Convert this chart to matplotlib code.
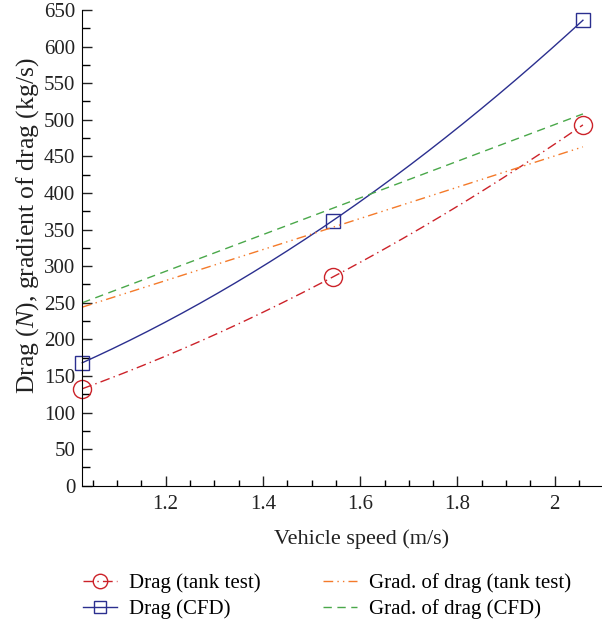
import numpy as np
import matplotlib
matplotlib.use('Agg')
import matplotlib.pyplot as plt
from matplotlib.ticker import MultipleLocator

plt.rcParams['font.family'] = 'Liberation Serif'
plt.rcParams['mathtext.fontset'] = 'custom'
plt.rcParams['mathtext.it'] = 'Liberation Serif:italic'
plt.rcParams['mathtext.rm'] = 'Liberation Serif'

# vehicle speed (m/s), i.e. 2, 3, 4 knots
speed = [1.0289, 1.5433, 2.0578]
drag_tank = [132.5, 285, 493]
drag_cfd = [168, 362, 636]
grad_tank = [244, 353, 463]
grad_cfd = [250, 379, 508]

red = '#cc2229'
blue = '#2b2f8f'
orange = '#f47a2a'
green = '#4aa84a'
txt = '#222222'

fig = plt.figure(figsize=(6.02, 6.29), dpi=100)
ax = fig.add_axes([0.1367, 0.2278, 0.8633, 0.7563])

# smooth curve through the three measured points
xs = np.linspace(speed[0], speed[-1], 201)
mark = [0, 100, 200]

def smooth(y):
    return np.polyval(np.polyfit(speed, y, 2), xs)

l1, = ax.plot(xs, smooth(drag_tank), color=red, lw=1.0, ls=(0, (7, 3, 1, 3)),
              marker='o', markevery=mark, ms=13, mfc='none', mec=red, mew=1.0,
              clip_on=False, label='Drag (tank test)')
l2, = ax.plot(xs, smooth(drag_cfd), color=blue, lw=1.0, ls='-',
              marker='s', markevery=mark, ms=10, mfc='none', mec=blue, mew=1.0,
              clip_on=False, label='Drag (CFD)')
l3, = ax.plot(speed, grad_tank, color=orange, lw=1.0, ls=(0, (7, 3, 1, 3, 1, 3)),
              clip_on=False, label='Grad. of drag (tank test)')
l4, = ax.plot(speed, grad_cfd, color=green, lw=1.0, ls=(0, (6, 4)),
              clip_on=False, label='Grad. of drag (CFD)')

ax.set_xlim(1.0289, 2.097)
ax.set_ylim(0, 650)
ax.xaxis.set_major_locator(MultipleLocator(0.2))
ax.xaxis.set_minor_locator(MultipleLocator(0.05))
ax.yaxis.set_major_locator(MultipleLocator(50))
ax.yaxis.set_minor_locator(MultipleLocator(25))
ax.set_xticks([1.2, 1.4, 1.6, 1.8, 2.0])
ax.set_xticklabels(['1.2', '1.4', '1.6', '1.8', '2'])

for s in ['top', 'right']:
    ax.spines[s].set_visible(False)
ax.tick_params(which='major', direction='in', length=7, width=1, labelsize=15, colors=txt)
ax.tick_params(axis='y', which='minor', direction='in', length=6, width=1)
ax.tick_params(axis='x', which='minor', direction='in', length=4, width=1)
ax.tick_params(axis='x', pad=7)
ax.tick_params(axis='y', pad=5)

ax.set_xlabel('Vehicle speed (m/s)', fontsize=16, color=txt, labelpad=11, x=0.538)
ax.set_ylabel('Drag ($\\mathit{N}$), gradient of drag (kg/s)', fontsize=18.5, color=txt,
              labelpad=2, y=0.546)

fig.legend(handles=[l1, l2, l3, l4], loc='lower left', bbox_to_anchor=(0.1245, 0.002),
           borderaxespad=0, ncol=2, frameon=False, fontsize=15, handlelength=1.6,
           columnspacing=3.0, labelspacing=0.3, handletextpad=0.6, markerscale=0.8)

fig.savefig('out.png', dpi=100)
